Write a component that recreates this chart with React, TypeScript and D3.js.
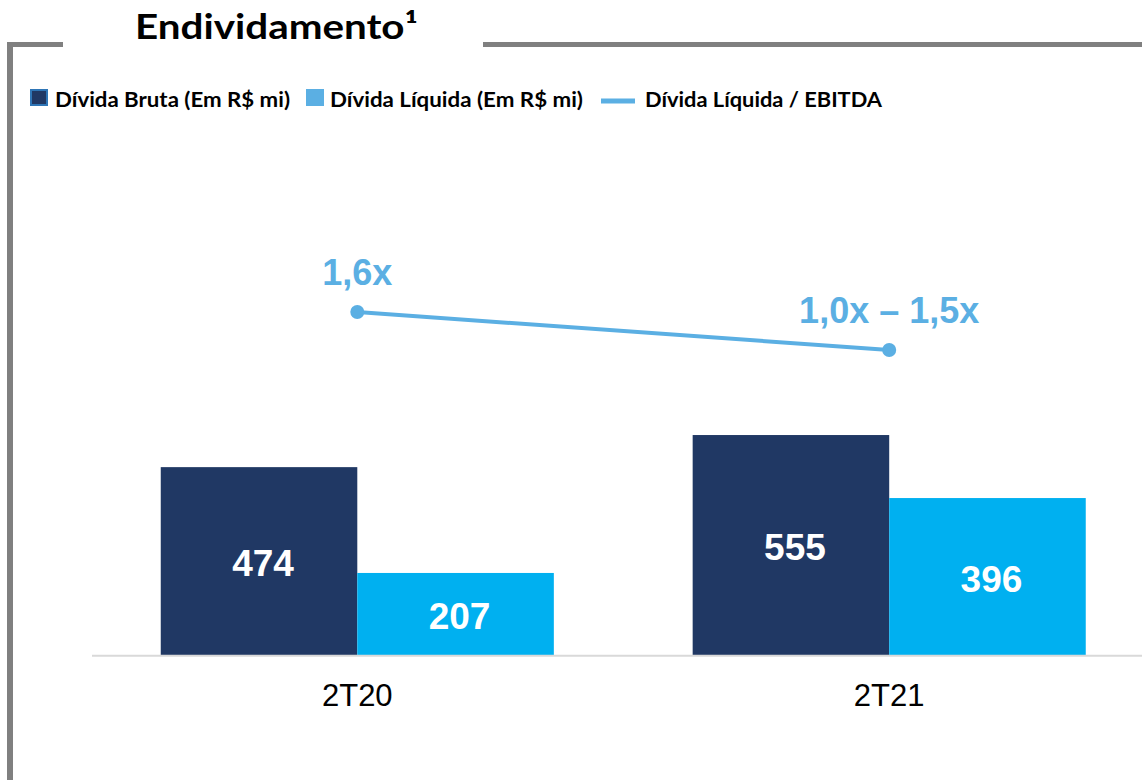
import React from "react";
import * as d3 from "d3";

const categories = ["2T20", "2T21"];
const series = ["Dívida Bruta (Em R$ mi)", "Dívida Líquida (Em R$ mi)"];
const grossDebt = [474, 555];
const netDebt = [207, 396];
const leverage = [1.6, 1.25];
const leverageLabels = ["1,6x", "1,0x – 1,5x"];
const lineLabel = "Dívida Líquida / EBITDA";
const title = "Endividamento¹";

const W = 1142;
const H = 780;
const BASE = 655;

const DARK = "#203864";
const LIGHT = "#00B0F0";
const LINE = "#5BAFE3";
const FRAME = "#808080";

const labelFont = "'Liberation Sans', Arial, sans-serif";
const legendFont = "Lato, 'Open Sans', sans-serif";

export default function App() {
  const x = d3
    .scaleBand<string>()
    .domain(categories)
    .range([92, 1142])
    .paddingInner(0.261)
    .paddingOuter(0.1175)
    .align(0.55);
  const xs = d3.scaleBand<string>().domain(series).range([0, x.bandwidth()]);
  const y = d3.scaleLinear().domain([0, 600]).range([BASE, 417.2]);
  const yl = d3.scaleLinear().domain([0, 2]).range([485.7, 268.6]);

  const values = [grossDebt, netDebt];
  const colors = [DARK, LIGHT];

  const groupCenter = (c: string) => (x(c) as number) + x.bandwidth() / 2;
  const linePath = d3
    .line<number>()
    .x((_, i) => groupCenter(categories[i]))
    .y((d) => yl(d))(leverage);

  return (
    <svg
      width={W}
      height={H}
      style={{ position: "absolute", left: 0, top: 0, background: "#fff" }}
    >
      {/* frame */}
      <line x1={10} y1={44.5} x2={10} y2={H} stroke={FRAME} strokeWidth={6} />
      <line x1={7} y1={44.5} x2={63} y2={44.5} stroke={FRAME} strokeWidth={5} />
      <line x1={483} y1={44.5} x2={W} y2={44.5} stroke={FRAME} strokeWidth={5} />
      <text
        x={135}
        y={38.5}
        fontFamily={legendFont}
        fontWeight={700}
        fontSize={34}
        textLength={283}
        lengthAdjust="spacingAndGlyphs"
        fill="#000"
      >
        {title}
      </text>

      {/* legend */}
      <rect x={31} y={90} width={16} height={15} fill={DARK} stroke="#2E75B6" strokeWidth={2} />
      <text
        x={55}
        y={106.5}
        fontFamily={legendFont}
        fontWeight={700}
        fontSize={20}
        textLength={235}
        lengthAdjust="spacingAndGlyphs"
      >
        {series[0]}
      </text>
      <rect x={306} y={89} width={18} height={17} fill={LINE} />
      <text
        x={330}
        y={106.5}
        fontFamily={legendFont}
        fontWeight={700}
        fontSize={20}
        textLength={253}
        lengthAdjust="spacingAndGlyphs"
      >
        {series[1]}
      </text>
      <line x1={601} y1={101} x2={635} y2={101} stroke={LINE} strokeWidth={5} />
      <text
        x={645}
        y={106.5}
        fontFamily={legendFont}
        fontWeight={700}
        fontSize={20}
        textLength={237}
        lengthAdjust="spacingAndGlyphs"
      >
        {lineLabel}
      </text>

      {/* bars */}
      {categories.map((c, i) =>
        series.map((s, j) => {
          const v = values[j][i];
          const bx = (x(c) as number) + (xs(s) as number);
          return (
            <g key={c + s}>
              <rect
                x={bx}
                y={y(v)}
                width={xs.bandwidth()}
                height={BASE - y(v)}
                fill={colors[j]}
              />
              <text
                x={bx + xs.bandwidth() / 2 + 4}
                y={(y(v) + BASE) / 2 + 15}
                textAnchor="middle"
                fontFamily={labelFont}
                fontWeight={700}
                fontSize={37}
                fill="#fff"
              >
                {v}
              </text>
            </g>
          );
        })
      )}

      {/* baseline */}
      <line x1={92} y1={655.7} x2={W} y2={655.7} stroke="#D9D9D9" strokeWidth={2} />

      {/* category labels */}
      {categories.map((c) => (
        <text
          key={c}
          x={groupCenter(c)}
          y={706}
          textAnchor="middle"
          fontFamily={labelFont}
          fontSize={31}
          fill="#000"
        >
          {c}
        </text>
      ))}

      {/* leverage line */}
      <path d={linePath || ""} fill="none" stroke={LINE} strokeWidth={4} />
      {leverage.map((v, i) => (
        <g key={i}>
          <circle cx={groupCenter(categories[i])} cy={yl(v)} r={7} fill={LINE} />
          <text
            x={groupCenter(categories[i])}
            y={yl(v) - 27}
            textAnchor="middle"
            fontFamily={labelFont}
            fontWeight={700}
            fontSize={36}
            fill={LINE}
          >
            {leverageLabels[i]}
          </text>
        </g>
      ))}
    </svg>
  );
}
